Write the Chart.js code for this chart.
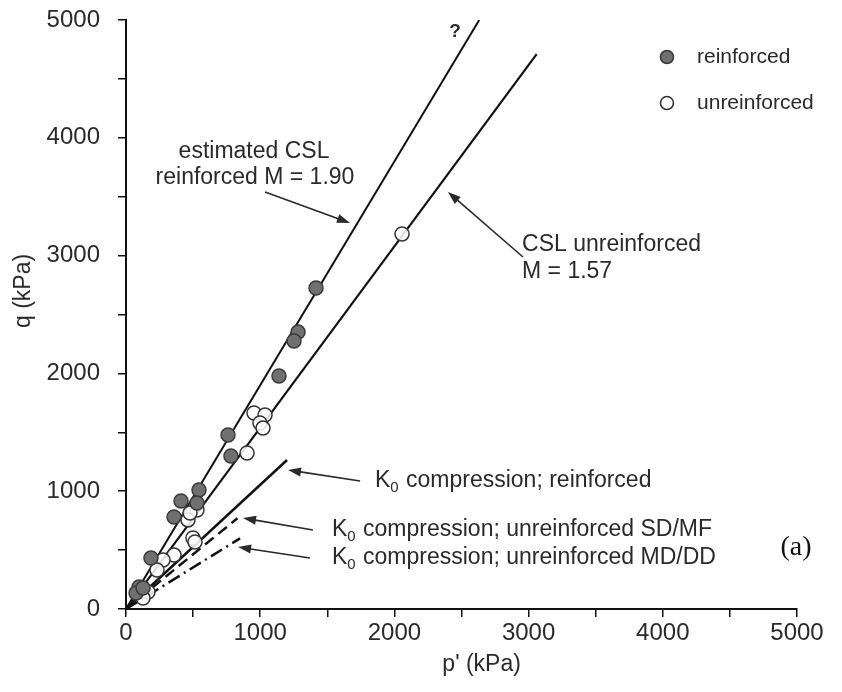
<!DOCTYPE html>
<html><head><meta charset="utf-8">
<script src="https://cdn.jsdelivr.net/npm/chart.js@4/dist/chart.umd.min.js"></script>
<style>html,body{margin:0;padding:0;background:#fff;}#wrap{width:842px;height:692px;}</style>
</head><body><div id="wrap"><canvas id="c" width="842" height="692"></canvas></div>
<script>
// ---- data (p' in kPa, q in kPa) ----
const reinforcedP = [1416, 1282, 1252, 1140, 760, 782, 544, 410, 529, 358, 186, 97, 75, 127];
const reinforcedQ = [2725, 2351, 2275, 1978, 1477, 1299, 1010, 917, 900, 781, 433, 187, 136, 178];
const unreinforcedP = [2057, 954, 1036, 998, 1021, 902, 529, 462, 477, 499, 514, 358, 276, 231, 164, 127];
const unreinforcedQ = [3183, 1664, 1647, 1579, 1536, 1324, 840, 756, 815, 603, 569, 458, 416, 331, 144, 93];
const cslReinforcedP = [0, 2632];
const cslReinforcedQ = [0, 5000];
const cslUnreinforcedP = [0, 3060];
const cslUnreinforcedQ = [0, 4710];
const k0ReinforcedP = [0, 1200];
const k0ReinforcedQ = [0, 1265];
const k0SdMfP = [0, 830];
const k0SdMfQ = [0, 770];
const k0MdDdP = [0, 850];
const k0MdDdQ = [0, 600];
const axisMin = 0, axisMax = 5000, minorStep = 500, labelStep = 1000;
const legendLabels = ['reinforced', 'unreinforced'];

const pts = (P, Q) => P.map((p, i) => ({x: p, y: Q[i]}));
const FONT = '"Liberation Sans", Arial, Helvetica, sans-serif';
const TXT = '#2a2a2a';

const overlay = {
  id: 'overlay',
  afterDraw(chart) {
    const {ctx, scales: {x, y}} = chart;
    const X = v => x.getPixelForValue(v), Y = v => y.getPixelForValue(v);
    ctx.save();
    ctx.fillStyle = TXT; ctx.strokeStyle = TXT;
    ctx.textBaseline = 'middle';
    const font = s => s + 'px ' + FONT;
    const text = (t, p, q, align, size) => {
      ctx.font = font(size || 23); ctx.textAlign = align || 'left';
      ctx.fillText(t, X(p), Y(q));
    };
    const k0text = (rest, p, q) => {
      let px = X(p), py = Y(q);
      ctx.textAlign = 'left';
      ctx.font = font(23); ctx.fillText('K', px, py); px += ctx.measureText('K').width;
      ctx.font = font(15); ctx.fillText('0', px, py + 7); px += ctx.measureText('0').width + 1;
      ctx.font = font(23); ctx.fillText(rest, px, py);
    };
    const arrow = (p1, q1, p2, q2) => {
      const x1 = X(p1), y1 = Y(q1), x2 = X(p2), y2 = Y(q2);
      const a = Math.atan2(y2 - y1, x2 - x1), L = 13, W = 4.5;
      ctx.lineWidth = 1.6;
      ctx.beginPath(); ctx.moveTo(x1, y1);
      ctx.lineTo(x2 - (L - 2) * Math.cos(a), y2 - (L - 2) * Math.sin(a)); ctx.stroke();
      ctx.beginPath(); ctx.moveTo(x2, y2);
      ctx.lineTo(x2 - L * Math.cos(a) + W * Math.sin(a), y2 - L * Math.sin(a) - W * Math.cos(a));
      ctx.lineTo(x2 - L * Math.cos(a) - W * Math.sin(a), y2 - L * Math.sin(a) + W * Math.cos(a));
      ctx.closePath(); ctx.fill();
    };
    // labels
    text('estimated CSL', 954, 3880, 'center');
    text('reinforced M = 1.90', 961, 3659, 'center');
    text('CSL unreinforced', 2951, 3090, 'left');
    text('M = 1.57', 2951, 2861, 'left');
    k0text(' compression; reinforced', 1855, 1087);
    k0text(' compression; unreinforced SD/MF', 1535, 671);
    k0text(' compression; unreinforced MD/DD', 1535, 433);
    ctx.font = 'bold 19px ' + FONT; ctx.textAlign = 'center';
    ctx.fillText('?', X(2452), Y(4898));
    ctx.font = '28px "Liberation Serif", "Times New Roman", serif'; ctx.textAlign = 'center';
    ctx.fillStyle = '#111';
    ctx.fillText('(a)', X(4993), Y(518));
    ctx.fillStyle = TXT;
    // arrows
    arrow(1036, 3540, 1669, 3277);
    arrow(2958, 2988, 2399, 3540);
    arrow(1744, 1087, 1207, 1180);
    arrow(1393, 671, 872, 772);
    arrow(1371, 433, 835, 526);
    // legend
    ctx.lineWidth = 1.6;
    ctx.beginPath(); ctx.arc(X(4031), Y(4686), 6.5, 0, 2 * Math.PI);
    ctx.fillStyle = '#707070'; ctx.fill(); ctx.strokeStyle = '#3a3a3a'; ctx.stroke();
    ctx.beginPath(); ctx.arc(X(4031), Y(4295), 6.5, 0, 2 * Math.PI);
    ctx.fillStyle = '#fff'; ctx.fill(); ctx.strokeStyle = '#333'; ctx.stroke();
    ctx.fillStyle = TXT;
    text(legendLabels[0], 4255, 4686, 'left', 21);
    text(legendLabels[1], 4255, 4295, 'left', 21);
    // axis titles
    ctx.font = font(23); ctx.textAlign = 'center';
    ctx.fillText("p' (kPa)", X(2650), 665);
    ctx.save(); ctx.translate(24, Y(2700)); ctx.rotate(-Math.PI / 2);
    ctx.fillText('q (kPa)', 0, 0); ctx.restore();
    ctx.restore();
  }
};

const lineDs = (label, P, Q, w, dash) => ({
  type: 'line', label, data: pts(P, Q), borderColor: '#111', borderWidth: w,
  borderDash: dash || [], pointRadius: 0, fill: false, order: 5
});

const axisCommon = (title) => ({
  type: 'linear', min: axisMin, max: axisMax,
  ticks: {
    stepSize: minorStep, autoSkip: false, color: TXT,
    font: {size: 24, family: FONT},
    callback: v => (v % labelStep === 0 ? String(v) : '')
  },
  grid: {display: true, drawOnChartArea: false, drawTicks: true, tickLength: 8, color: '#111', lineWidth: 1.5},
  border: {display: true, color: '#111', width: 2},
  title: {display: false, text: title}
});

const xScale = axisCommon("p' (kPa)");
xScale.ticks.padding = 2;
xScale.afterFit = s => { s.height = 83; s.paddingLeft = 0; s.paddingRight = 0; };
const yScale = axisCommon('q (kPa)');
yScale.ticks.padding = 18;
yScale.afterFit = s => { s.width = 126; s.paddingTop = 0; s.paddingBottom = 0; };

new Chart(document.getElementById('c'), {
  type: 'scatter',
  data: {
    datasets: [
      {label: legendLabels[0], data: pts(reinforcedP, reinforcedQ), backgroundColor: '#707070',
       borderColor: '#3a3a3a', borderWidth: 1.5, pointRadius: 7, order: 1},
      {label: legendLabels[1], data: pts(unreinforcedP, unreinforcedQ), backgroundColor: 'rgba(255,255,255,0.85)',
       borderColor: '#333', borderWidth: 1.5, pointRadius: 7, order: 2},
      lineDs('estimated CSL reinforced M = 1.90', cslReinforcedP, cslReinforcedQ, 2),
      lineDs('CSL unreinforced M = 1.57', cslUnreinforcedP, cslUnreinforcedQ, 2.2),
      lineDs('K0 compression; reinforced', k0ReinforcedP, k0ReinforcedQ, 2.5),
      lineDs('K0 compression; unreinforced SD/MF', k0SdMfP, k0SdMfQ, 2.5, [11, 6]),
      lineDs('K0 compression; unreinforced MD/DD', k0MdDdP, k0MdDdQ, 2.5, [13, 5, 2, 5])
    ]
  },
  options: {
    responsive: false, animation: false,
    layout: {padding: {left: 0, right: 45, top: 20, bottom: 0}},
    plugins: {legend: {display: false}, tooltip: {enabled: false}},
    scales: {x: xScale, y: yScale}
  },
  plugins: [overlay]
});
</script></body></html>
